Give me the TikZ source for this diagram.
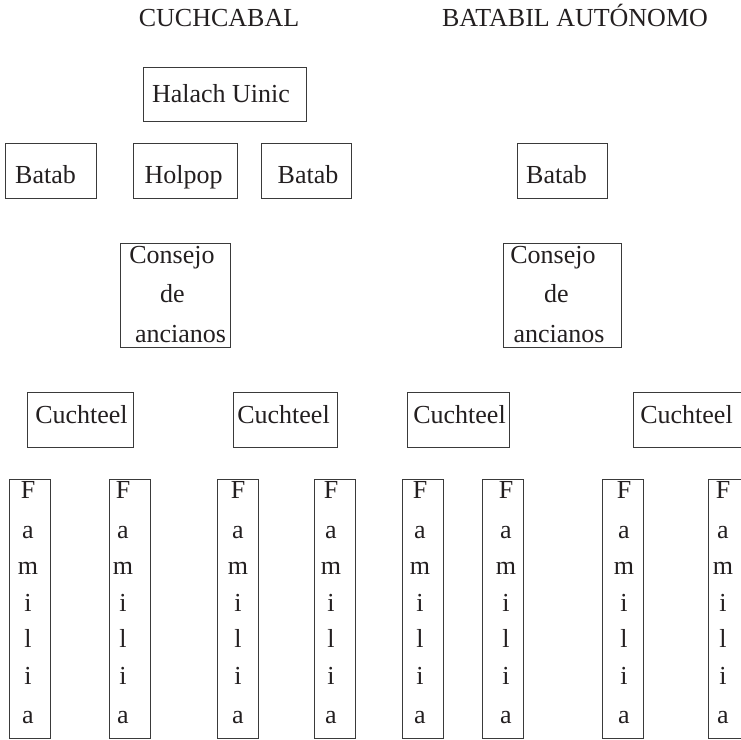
\documentclass[tikz,border=0pt]{standalone}
\usepackage{fontspec}
\setmainfont{Liberation Serif}
\definecolor{boxc}{HTML}{3A3A3A}
\definecolor{txtc}{HTML}{231F20}
\begin{document}
\begin{tikzpicture}[x=1bp,y=-1bp,
  box/.style={draw=boxc, line width=0.9bp, inner sep=0pt, outer sep=0pt},
  txt/.style={anchor=base, inner sep=0pt, text=txtc, font=\fontsize{26bp}{30bp}\selectfont}]
\useasboundingbox (0,0) rectangle (741,740);
% titles
\node[txt] (t1) at (219,27) {CUCHCABAL};
\node[txt] (t2) at (575,27) {BATABIL AUTÓNOMO};
% level 1
\node[box, minimum width=163bp, minimum height=54bp] (hu) at (224.5,94) {};
\node[txt] (huT) at (221,102) {Halach Uinic};
% level 2
\node[box, minimum width=91bp, minimum height=55bp] (b1) at (50.5,170.5) {};
\node[txt] (b1T) at (45.5,183) {Batab};
\node[box, minimum width=104bp, minimum height=55bp] (hp) at (185,170.5) {};
\node[txt] (hpT) at (183.5,183) {Holpop};
\node[box, minimum width=90bp, minimum height=55bp] (b2) at (306,170.5) {};
\node[txt] (b2T) at (308,183) {Batab};
\node[box, minimum width=90bp, minimum height=55bp] (b3) at (562,170.5) {};
\node[txt] (b3T) at (556.5,183) {Batab};
% consejo
\node[box, minimum width=110bp, minimum height=104bp] (c1) at (175,295) {};
\node[txt] (c1a) at (172,263) {Consejo};
\node[txt] (c1b) at (172.5,302) {de};
\node[txt] (c1c) at (180.5,342) {ancianos};
\node[box, minimum width=118bp, minimum height=104bp] (c2) at (562,295) {};
\node[txt] (c2a) at (553,263) {Consejo};
\node[txt] (c2b) at (556.5,302) {de};
\node[txt] (c2c) at (559,342) {ancianos};
% cuchteel
\node[box, minimum width=106bp, minimum height=55bp] (k1) at (80,419.5) {};
\node[txt] (k1T) at (81.5,423) {Cuchteel};
\node[box, minimum width=104bp, minimum height=55bp] (k2) at (285,419.5) {};
\node[txt] (k2T) at (283.5,423) {Cuchteel};
\node[box, minimum width=102bp, minimum height=55bp] (k3) at (458,419.5) {};
\node[txt] (k3T) at (459.5,423) {Cuchteel};
\node[box, minimum width=112bp, minimum height=55bp] (k4) at (689,419.5) {};
\node[txt] (k4T) at (686.5,423) {Cuchteel};
% familia boxes
\foreach \n/\bx/\tx in {1/29.5/28, 2/130/123, 3/238/238, 4/335/331, 5/422.5/420, 6/503/506, 7/622.5/624, 8/729/723}{
  \node[box, minimum width=41bp, minimum height=259bp] (f\n) at (\bx,608.5) {};
  \foreach \l/\y [count=\j] in {F/498, a/538, m/574, i/611, l/647, i/684, a/723}{
    \node[txt] (f\n l\j) at (\tx,\y) {\l};
  }
}
\end{tikzpicture}
\end{document}
